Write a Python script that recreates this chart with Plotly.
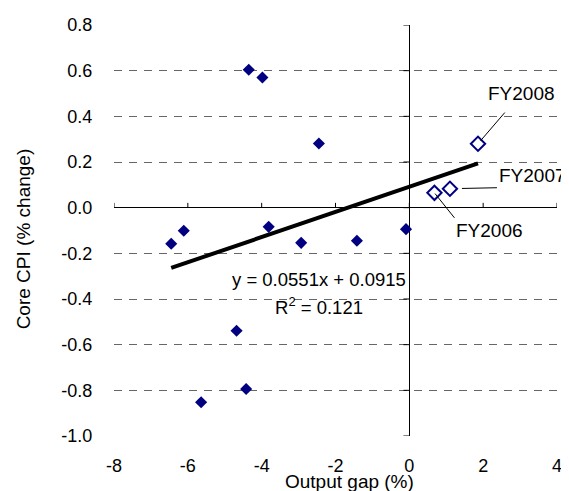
import plotly.graph_objects as go

# ---- data ----
gap_x = [-4.35, -3.98, -2.45, -6.45, -6.11, -3.81, -2.93, -1.42, -0.09, -4.68, -4.42, -5.64]
cpi_y = [0.604, 0.570, 0.281, -0.158, -0.101, -0.084, -0.154, -0.145, -0.094, -0.539, -0.794, -0.852]
fy_labels = ["FY2006", "FY2007", "FY2008"]
fy_x = [0.68, 1.10, 1.86]
fy_y = [0.065, 0.083, 0.280]
slope = 0.0551
intercept = 0.0915
r_squared = 0.121
x_ticks = [-8, -6, -4, -2, 0, 2, 4]
y_ticks = [-1.0, -0.8, -0.6, -0.4, -0.2, 0.0, 0.2, 0.4, 0.6, 0.8]

FONT = "Liberation Sans, Arial, sans-serif"
NAVY = "#000080"

all_x = gap_x + fy_x
trend_x = [min(all_x), max(all_x)]
trend_y = [slope * v + intercept for v in trend_x]

# small tick marks on the crossing axes (x ticks point up, y ticks point left)
tick_up = 0.021
tick_left = 0.16
tx, ty = [], []
for v in x_ticks:
    tx += [v, v, None]
    ty += [0, tick_up, None]
for v in y_ticks:
    tx += [0, -tick_left, None]
    ty += [v, v, None]

fig = go.Figure()
fig.add_trace(go.Scatter(x=tx, y=ty, mode="lines", line=dict(color="black", width=1),
                         hoverinfo="skip", showlegend=False))
fig.add_trace(go.Scatter(x=trend_x, y=trend_y, mode="lines",
                         line=dict(color="black", width=4), showlegend=False))
fig.add_trace(go.Scatter(x=gap_x, y=cpi_y, mode="markers",
                         marker=dict(symbol="diamond", size=9.3, color=NAVY, line=dict(width=0)),
                         showlegend=False))
fig.add_trace(go.Scatter(x=fy_x, y=fy_y, mode="markers",
                         marker=dict(symbol="diamond", size=11, color="white",
                                     line=dict(color=NAVY, width=2)),
                         showlegend=False))

# label placement (pixel offsets from each point)
label_style = {
    "FY2006": dict(ax=20, ay=25, xanchor="left", yanchor="top", standoff=1, startstandoff=0),
    "FY2007": dict(ax=47, ay=-1, xanchor="left", yanchor="bottom", standoff=12, startstandoff=0),
    "FY2008": dict(ax=43, ay=-50, xanchor="center", yanchor="middle", standoff=4, startstandoff=9),
}
annotations = []
for lab, xv, yv in zip(fy_labels, fy_x, fy_y):
    s = label_style[lab]
    annotations.append(dict(x=xv, y=yv, xref="x", yref="y", text=lab, showarrow=True,
                            arrowhead=0, arrowwidth=1, arrowcolor="black",
                            ax=s["ax"], ay=s["ay"], xanchor=s["xanchor"], yanchor=s["yanchor"],
                            standoff=s["standoff"], startstandoff=s["startstandoff"],
                            font=dict(family=FONT, size=19, color="black")))

annotations.append(dict(x=-2.44, y=-0.316, xref="x", yref="y", showarrow=False,
                        text=f"y = {slope:.4f}x + {intercept:.4f}",
                        font=dict(family=FONT, size=18.5, color="black")))
annotations.append(dict(x=-2.45, y=-0.431, xref="x", yref="y", showarrow=False,
                        text=f"R<sup>2</sup> = {r_squared:.3f}",
                        font=dict(family=FONT, size=18.5, color="black")))
annotations.append(dict(x=0.532, y=-0.11, xref="paper", yref="paper", showarrow=False,
                        text="Output gap (%)", xanchor="center", yanchor="middle",
                        font=dict(family=FONT, size=19, color="black")))
annotations.append(dict(x=-0.204, y=0.48, xref="paper", yref="paper", showarrow=False,
                        text="Core CPI (% change)", textangle=-90,
                        xanchor="center", yanchor="middle",
                        font=dict(family=FONT, size=19, color="black")))

# page body has an 8px margin, so the figure is sized to fit inside the window
fig.update_layout(
    width=561, height=483,
    margin=dict(l=106, r=7, t=13, b=55),
    paper_bgcolor="white", plot_bgcolor="white",
    font=dict(family=FONT, size=18, color="black"),
    annotations=annotations,
    showlegend=False,
)
fig.update_xaxes(range=[-8, 4], tickvals=x_ticks, ticktext=[str(v) for v in x_ticks],
                 showgrid=False, zeroline=True, zerolinecolor="black", zerolinewidth=1,
                 showline=False, ticks="outside", ticklen=13, tickcolor="rgba(0,0,0,0)",
                 tickfont=dict(family=FONT, size=18, color="black"))
fig.update_yaxes(range=[-1.0, 0.8], tickvals=y_ticks, ticktext=[f"{v:.1f}" for v in y_ticks],
                 showgrid=True, gridcolor="#666666", gridwidth=1, griddash="8px,7px",
                 zeroline=True, zerolinecolor="black", zerolinewidth=1,
                 showline=False, ticks="outside", ticklen=17, tickcolor="rgba(0,0,0,0)",
                 tickfont=dict(family=FONT, size=18, color="black"))

fig.write_html("out.html")
